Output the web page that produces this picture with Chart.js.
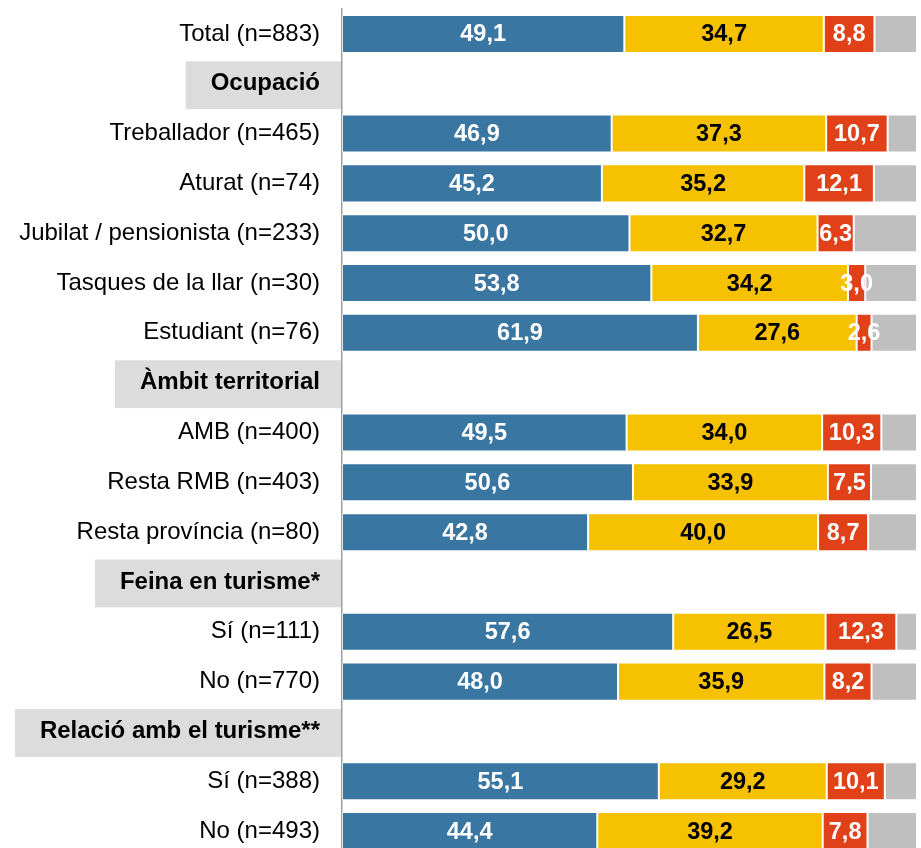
<!DOCTYPE html>
<html>
<head>
<meta charset="utf-8">
<title>Valoració per col·lectius</title>
<script src="https://cdn.jsdelivr.net/npm/chart.js@4.4.1/dist/chart.umd.min.js"></script>
<style>
  html, body { margin: 0; padding: 0; overflow: hidden; background: #fff; }
  #wrap { width: 921px; height: 860px; }
</style>
</head>
<body>
<div id="wrap"><canvas id="chart"></canvas></div>
<script>
const categories = [
  'Total (n=883)',
  'Ocupació',
  'Treballador (n=465)',
  'Aturat (n=74)',
  'Jubilat / pensionista (n=233)',
  'Tasques de la llar (n=30)',
  'Estudiant (n=76)',
  'Àmbit territorial',
  'AMB (n=400)',
  'Resta RMB (n=403)',
  'Resta província (n=80)',
  'Feina en turisme*',
  'Sí (n=111)',
  'No (n=770)',
  'Relació amb el turisme**',
  'Sí (n=388)',
  'No (n=493)'
]

// files que són capçalera de grup (caixa grisa, sense barra)
const headers = ['Ocupació', 'Àmbit territorial', 'Feina en turisme*', 'Relació amb el turisme**']

const serieBlau    = [49.1, null, 46.9, 45.2, 50.0, 53.8, 61.9, null, 49.5, 50.6, 42.8, null, 57.6, 48.0, null, 55.1, 44.4]
const serieGroc    = [34.7, null, 37.3, 35.2, 32.7, 34.2, 27.6, null, 34.0, 33.9, 40.0, null, 26.5, 35.9, null, 29.2, 39.2]
const serieVermell = [8.8, null, 10.7, 12.1, 6.3, 3.0, 2.6, null, 10.3, 7.5, 8.7, null, 12.3, 8.2, null, 10.1, 7.8]
const serieGris    = [7.4, null, 5.1, 7.5, 11.0, 9.0, 7.9, null, 6.2, 8.0, 8.5, null, 3.6, 7.9, null, 5.6, 8.6]

const FONT = '"Liberation Sans", Arial, sans-serif'
const isHeader = i => headers.includes(categories[i])

// Etiquetes de valor centrades a cada segment
const valueLabels = {
  id: 'valueLabels',
  afterDatasetsDraw(chart) {
    const { ctx } = chart
    ctx.save()
    ctx.font = 'bold 23.5px ' + FONT
    ctx.textAlign = 'center'
    ctx.textBaseline = 'middle'
    chart.data.datasets.forEach((ds, i) => {
      if (!ds.labelColor) return
      chart.getDatasetMeta(i).data.forEach((bar, j) => {
        const v = ds.data[j]
        if (v == null) return
        ctx.fillStyle = ds.labelColor
        ctx.fillText(v.toFixed(1).replace('.', ','), (bar.x + bar.base) / 2, bar.y + 1)
      })
    })
    ctx.restore()
  }
}

const barStyle = {
  barPercentage: 0.763,
  categoryPercentage: 1,
  borderWidth: 1,
  borderColor: 'rgba(255, 255, 255, 0.45)',
  borderSkipped: false
}

new Chart(document.getElementById('chart'), {
  type: 'bar',
  data: {
    labels: categories,
    datasets: [
      { label: 'Sèrie 1', data: serieBlau, backgroundColor: '#3a76a2', labelColor: '#ffffff', ...barStyle },
      { label: 'Sèrie 2', data: serieGroc, backgroundColor: '#f5c100', labelColor: '#000000', ...barStyle },
      { label: 'Sèrie 3', data: serieVermell, backgroundColor: '#e04119', labelColor: '#ffffff', ...barStyle },
      { label: 'Sèrie 4', data: serieGris, backgroundColor: '#bfbfbf', ...barStyle }
    ]
  },
  options: {
    indexAxis: 'y',
    responsive: true,
    maintainAspectRatio: false,
    animation: false,
    layout: { padding: { top: 9, bottom: 4, left: 0, right: 4 } },
    scales: {
      x: {
        stacked: true,
        min: 0,
        max: 100,
        display: false
      },
      y: {
        stacked: true,
        grid: { display: false, drawTicks: false },
        border: { display: true, color: '#a0a0a0', width: 1.5 },
        ticks: {
          autoSkip: false,
          color: '#000',
          padding: 22,
          font: c => isHeader(c.index)
            ? { family: FONT, size: 24, weight: 'bold' }
            : { family: FONT, size: 24 },
          showLabelBackdrop: c => isHeader(c.index),
          backdropColor: '#dcdcdc',
          backdropPadding: { top: 8, bottom: 11, left: 25, right: 21 }
        },
        afterFit: s => {
          s.width = 342
          s.paddingTop = 0
          s.paddingBottom = 0
        }
      }
    },
    plugins: {
      legend: { display: false },
      tooltip: { enabled: false }
    }
  },
  plugins: [valueLabels]
})
</script>
</body>
</html>
